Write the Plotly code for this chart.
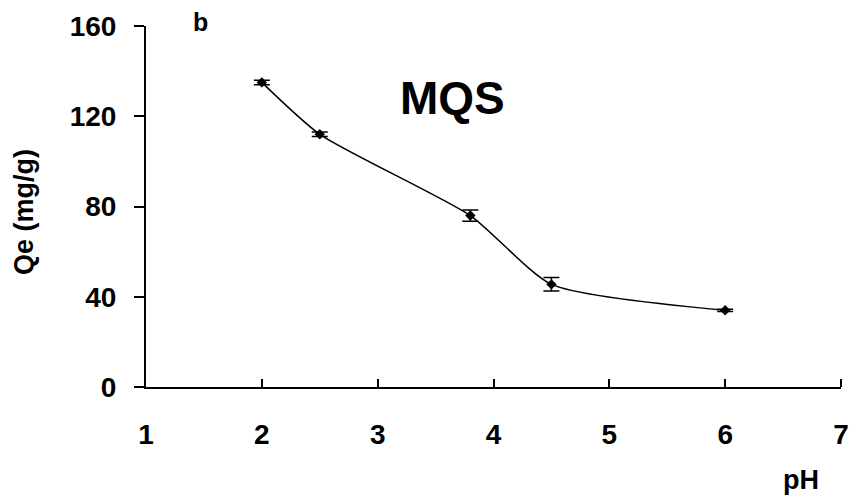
import plotly.graph_objects as go

ph = [2, 2.5, 3.8, 4.5, 6]
qe = [135, 112, 76, 45.5, 34]
qe_err = [1.0, 1.0, 2.5, 3.0, 0.5]

x_ticks = [1, 2, 3, 4, 5, 6, 7]
y_ticks = [0, 40, 80, 120, 160]

FONT = "Liberation Sans, Arial, sans-serif"
L, R, T, B = 146, 9, 26, 112
PW = 850 - L - R
PH = 499 - T - B

fig = go.Figure()
fig.add_trace(go.Scatter(
    x=ph, y=qe,
    mode="lines+markers",
    line=dict(color="black", width=1.5, shape="spline", smoothing=0.6),
    marker=dict(symbol="diamond", size=8, color="black"),
    error_y=dict(type="data", array=qe_err, visible=True, color="black",
                 thickness=1.5, width=8),
    showlegend=False,
))

# closing tick at the right end of the x axis (pH 7)
fig.add_shape(type="line", xref="paper", yref="paper", x0=1, x1=1,
              y0=0, y1=8 / PH, line=dict(color="black", width=2))

fig.update_layout(
    width=850, height=499,
    margin=dict(l=L, r=R, t=T, b=B, autoexpand=False),
    paper_bgcolor="white", plot_bgcolor="white",
    font=dict(family=FONT, size=28, color="black"),
    xaxis=dict(
        range=[1, 7], tickvals=x_ticks, ticktext=[str(v) for v in x_ticks],
        showgrid=False, zeroline=False, automargin=False,
        showline=True, linecolor="black", linewidth=2,
        ticks="inside", ticklen=8, tickwidth=2, tickcolor="black",
        ticklabelstandoff=21, ticklabeloverflow="allow",
        tickfont=dict(family=FONT, size=28, color="black", weight="bold"),
    ),
    yaxis=dict(
        range=[0, 160], tickvals=y_ticks, ticktext=[str(v) for v in y_ticks],
        showgrid=False, zeroline=False, automargin=False,
        showline=True, linecolor="black", linewidth=2,
        ticks="outside", ticklen=10, tickwidth=2, tickcolor="black",
        ticklabelstandoff=12, ticklabeloverflow="allow",
        tickfont=dict(family=FONT, size=28, color="black", weight="bold"),
    ),
    annotations=[
        dict(text="<b>Qe (mg/g)</b>", xref="paper", yref="paper",
             x=(24 - L) / PW, y=(387 - 212) / PH, textangle=-90,
             showarrow=False, xanchor="center", yanchor="middle",
             font=dict(family=FONT, size=27, color="black")),
        dict(text="<b>pH</b>", xref="paper", yref="paper",
             x=(801 - L) / PW, y=-(480 - 387) / PH,
             showarrow=False, xanchor="center", yanchor="middle",
             font=dict(family=FONT, size=27, color="black")),
        dict(text="<b>b</b>", xref="paper", yref="paper",
             x=(200 - L) / PW, y=(387 - 22) / PH,
             showarrow=False, xanchor="center", yanchor="middle",
             font=dict(family=FONT, size=25, color="black")),
        dict(text="<b>MQS</b>", xref="paper", yref="paper",
             x=(452 - L) / PW, y=(387 - 98) / PH,
             showarrow=False, xanchor="center", yanchor="middle",
             font=dict(family=FONT, size=46, color="black")),
    ],
)

fig.write_html("out.html")
